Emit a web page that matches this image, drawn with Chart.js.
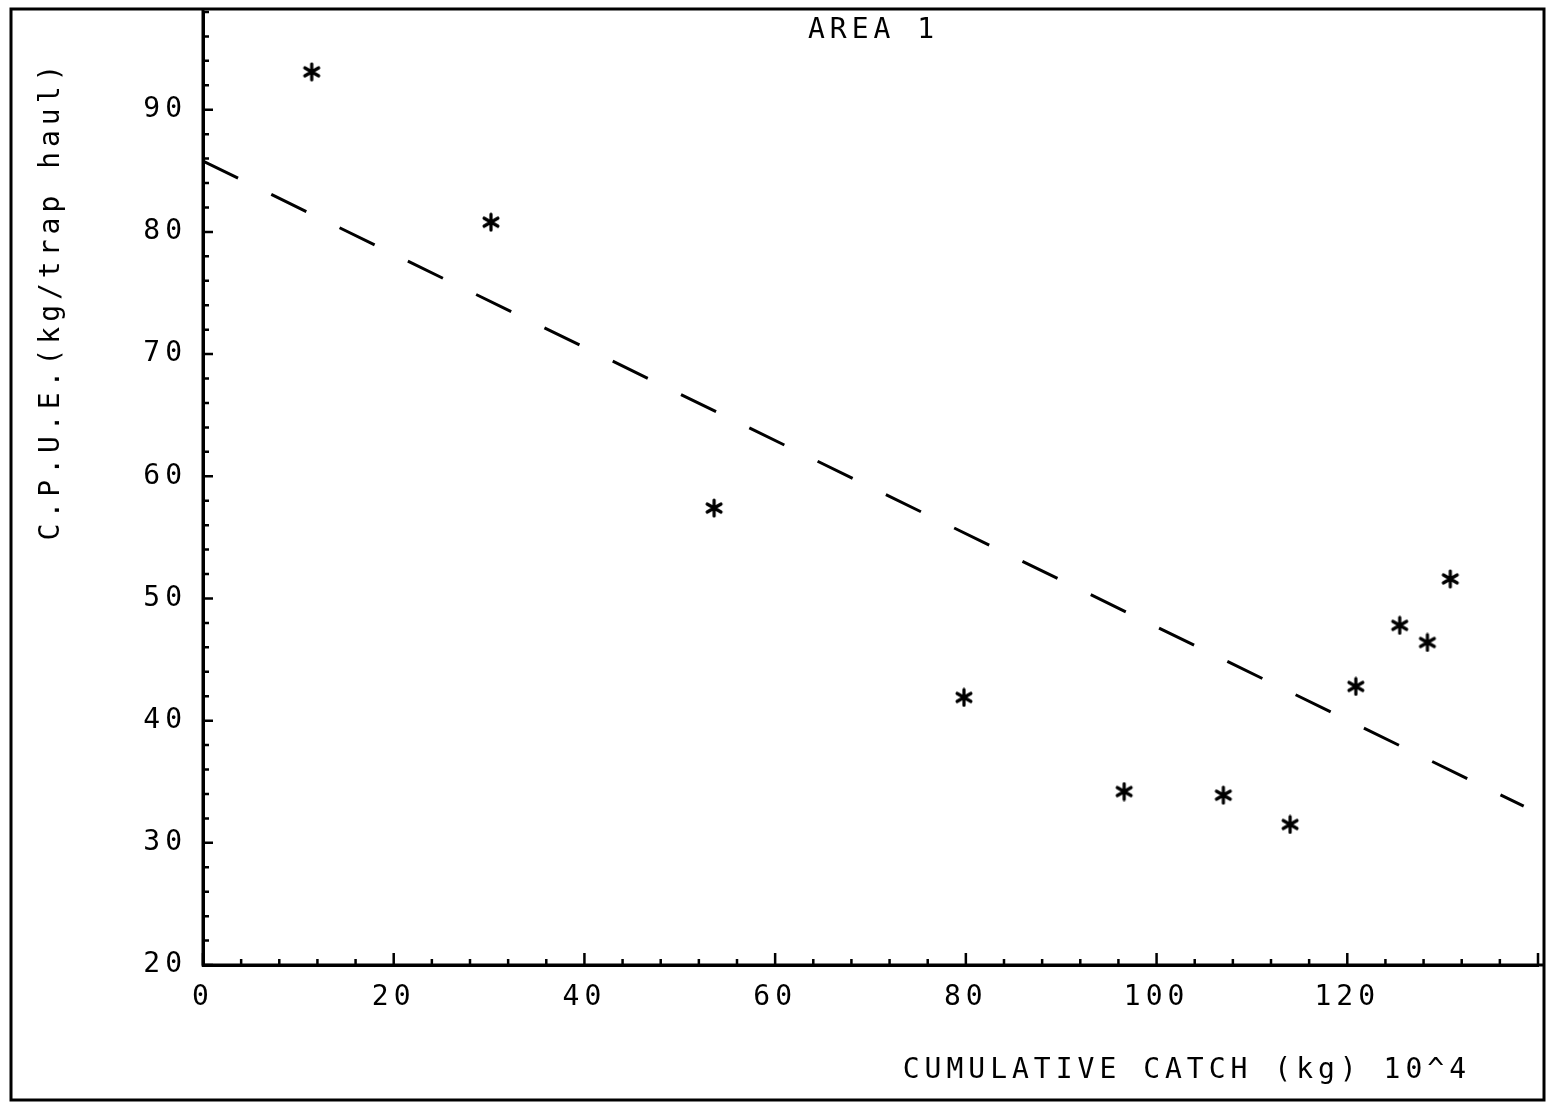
<!DOCTYPE html>
<html>
<head>
<meta charset="utf-8">
<script src="https://cdn.jsdelivr.net/npm/chart.js@4.4.1/dist/chart.umd.min.js"></script>
<style>
  html, body { margin: 0; padding: 0; background: #fff; }
  #wrap { width: 1549px; height: 1102px; }
</style>
</head>
<body>
<div id="wrap"><canvas id="cpueChart"></canvas></div>
<script>
// cumulative catch (kg x 10^4) and CPUE for each haul period
const catchX = [11.4, 30.2, 53.6, 79.8, 96.6, 107.0, 114.0, 120.9, 125.5, 128.4, 130.8];
const cpue   = [93.1, 80.8, 57.4, 41.9, 34.2, 33.9, 31.5, 42.8, 47.8, 46.4, 51.6];

// fitted regression line end points
const fitX = [0, 138.5];
const fitY = [85.8, 33.0];

const chartTitle = 'AREA 1';
const xTitle = 'CUMULATIVE CATCH (kg) 10^4';
const yTitle = 'C.P.U.E.(kg/trap haul)';

const FONT = '"DejaVu Sans Mono", "Liberation Mono", monospace';
const SPACING = '5px';

// asterisk marker like the plotter's
function makeStar() {
    const c = document.createElement('canvas');
    c.width = 20; c.height = 20;
    const g = c.getContext('2d');
    g.strokeStyle = '#000';
    g.lineWidth = 3.2;
    g.lineCap = 'round';
    g.beginPath();
    g.moveTo(10, 2); g.lineTo(10, 18);
    for (const a of [30, 150]) {
        const r = a * Math.PI / 180;
        g.moveTo(10 - 8 * Math.cos(r), 10 - 8 * Math.sin(r));
        g.lineTo(10 + 8 * Math.cos(r), 10 + 8 * Math.sin(r));
    }
    g.stroke();
    return c;
}

// no extra room for half labels at the axis ends
function noEdgePadding(scale) {
    scale.paddingTop = 0;
    scale.paddingBottom = 0;
    scale.paddingLeft = 0;
    scale.paddingRight = 0;
}

const plotterStyle = {
    id: 'plotterStyle',
    beforeLayout(chart) {
        chart.ctx.letterSpacing = SPACING;
    },
    beforeDraw(chart) {
        const ctx = chart.ctx;
        ctx.save();
        ctx.fillStyle = '#fff';
        ctx.fillRect(0, 0, chart.width, chart.height);
        ctx.restore();
        ctx.letterSpacing = SPACING;
    },
    afterDraw(chart) {
        const ctx = chart.ctx;
        const area = chart.chartArea;
        const xs = chart.scales.x, ys = chart.scales.y;
        ctx.save();
        ctx.strokeStyle = '#000';
        ctx.lineWidth = 2.5;
        ctx.beginPath();
        // inward ticks
        xs.ticks.forEach(t => {
            const px = xs.getPixelForValue(t.value);
            const len = t.value % 20 === 0 ? 12 : 6;
            ctx.moveTo(px, area.bottom);
            ctx.lineTo(px, area.bottom - len);
        });
        ys.ticks.forEach(t => {
            const py = ys.getPixelForValue(t.value);
            const len = t.value % 10 === 0 ? 10 : 6;
            ctx.moveTo(area.left, py);
            ctx.lineTo(area.left + len, py);
        });
        ctx.stroke();

        // outer frame
        ctx.lineWidth = 3;
        ctx.strokeRect(11, 9, 1533, 1091);
        // axes run out to the frame
        ctx.beginPath();
        ctx.moveTo(area.left, 9);
        ctx.lineTo(area.left, area.bottom);
        ctx.lineTo(1544, area.bottom);
        ctx.stroke();

        ctx.fillStyle = '#000';
        ctx.font = '28px ' + FONT;
        ctx.letterSpacing = SPACING;
        ctx.textBaseline = 'middle';
        ctx.textAlign = 'center';
        ctx.fillText(chartTitle, (area.left + area.right) / 2 + 3, 31);
        ctx.textAlign = 'right';
        ctx.fillText(xTitle, area.right - 67, 1071);
        ctx.translate(52, 300);
        ctx.rotate(-Math.PI / 2);
        ctx.textAlign = 'center';
        ctx.fillText(yTitle, 0, 0);
        ctx.restore();
    }
};

new Chart(document.getElementById('cpueChart'), {
    type: 'scatter',
    data: {
        datasets: [{
            label: 'CPUE',
            data: catchX.map((x, i) => ({ x: x, y: cpue[i] })),
            pointStyle: makeStar(),
            pointRadius: 10
        }, {
            type: 'line',
            label: 'fit',
            data: fitX.map((x, i) => ({ x: x, y: fitY[i] })),
            borderColor: '#000',
            borderWidth: 3,
            borderDash: [39, 37],
            pointRadius: 0,
            fill: false
        }]
    },
    plugins: [plotterStyle],
    options: {
        responsive: true,
        maintainAspectRatio: false,
        animation: false,
        events: [],
        layout: { padding: { left: 0, top: 12, right: 4, bottom: 0 } },
        plugins: {
            legend: { display: false },
            tooltip: { enabled: false },
            title: { display: false }
        },
        scales: {
            x: {
                type: 'linear',
                min: 0,
                max: 140,
                afterFit(scale) { scale.height = 137; noEdgePadding(scale); },
                grid: { display: true, drawOnChartArea: false, drawTicks: false },
                border: { display: true, color: '#000', width: 3 },
                ticks: {
                    stepSize: 4,
                    autoSkip: false,
                    maxRotation: 0,
                    padding: 16,
                    color: '#000',
                    font: { family: FONT, size: 28 },
                    callback: v => (v % 20 === 0 && v < 140) ? String(v) : ''
                }
            },
            y: {
                type: 'linear',
                min: 20,
                max: 98,
                afterFit(scale) { scale.width = 203; noEdgePadding(scale); },
                grid: { display: true, drawOnChartArea: false, drawTicks: false },
                border: { display: true, color: '#000', width: 3 },
                ticks: {
                    stepSize: 2,
                    autoSkip: false,
                    padding: 16,
                    color: '#000',
                    font: { family: FONT, size: 28 },
                    callback: v => v % 10 === 0 ? String(v) : ''
                }
            }
        }
    }
});
</script>
</body>
</html>
